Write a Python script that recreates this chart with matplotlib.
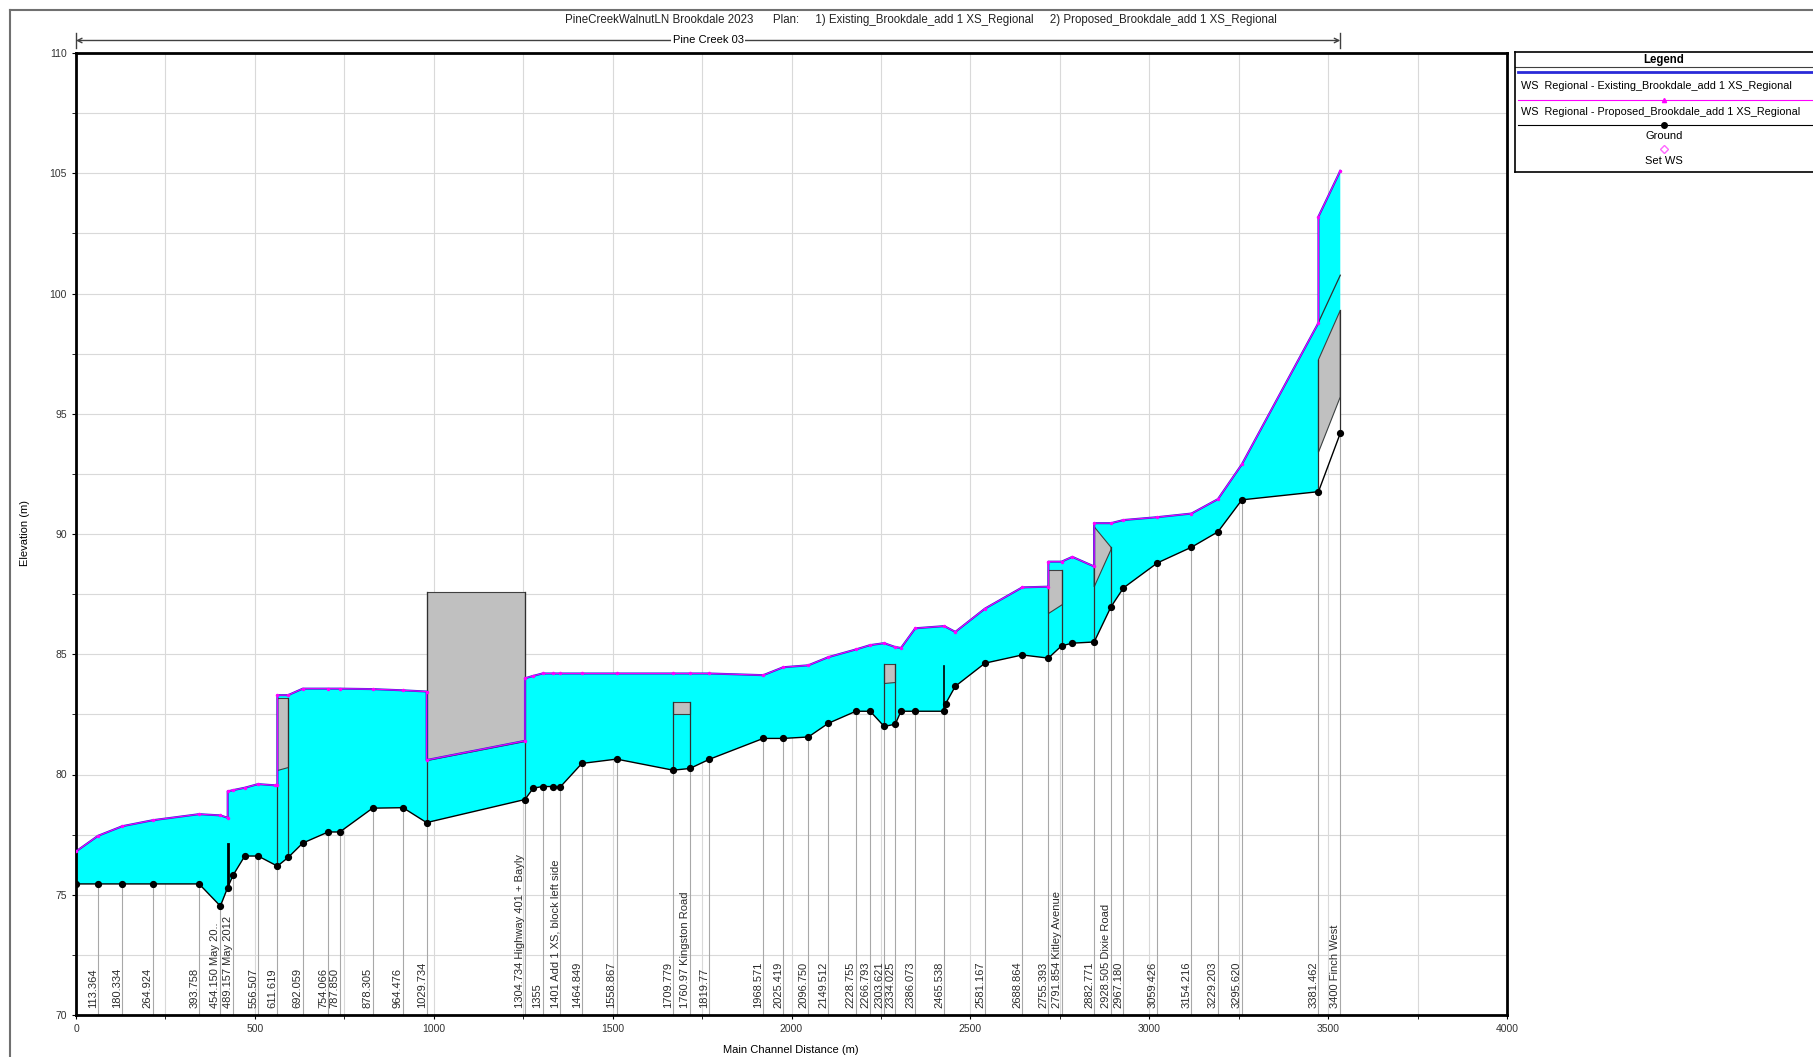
import numpy as np
import matplotlib.pyplot as plt

plt.rcParams['font.family'] = ['Liberation Sans', 'DejaVu Sans']

# ground profile (main channel distance m, invert elevation m)
ground_x = [0, 61.5, 129.5, 215, 344, 403.6, 424, 439, 471.8, 509, 563, 593, 634, 705, 737.5,
            829, 914, 980, 1255, 1278, 1304, 1333, 1353, 1414, 1511, 1669, 1716, 1770, 1921,
            1977, 2047, 2103, 2180, 2220, 2259, 2290, 2306, 2346, 2427, 2431, 2458, 2541, 2645,
            2718, 2755, 2785, 2846, 2893, 2928, 3023, 3118, 3192, 3259, 3473, 3534]
ground_z = [75.45, 75.45, 75.45, 75.45, 75.45, 74.53, 75.3, 75.81, 76.61, 76.61, 76.19, 76.55,
            77.15, 77.61, 77.61, 78.6, 78.62, 78.0, 78.96, 79.43, 79.5, 79.5, 79.47, 80.46,
            80.64, 80.18, 80.25, 80.63, 81.5, 81.5, 81.56, 82.13, 82.63, 82.63, 82.0, 82.09,
            82.63, 82.63, 82.63, 82.95, 83.67, 84.63, 84.97, 84.84, 85.35, 85.46, 85.51, 86.97,
            87.76, 88.8, 89.45, 90.09, 91.42, 91.76, 94.19]

# water surface (same stations, with jumps at structures)
ws_x = [0, 61.5, 129.5, 215, 344, 403.6, 424, 424, 439, 471.8, 509, 556, 563, 563, 593, 634,
        705, 737.5, 829, 914, 980, 980, 1255, 1255, 1278, 1304, 1333, 1353, 1414, 1511, 1669,
        1716, 1770, 1921, 1977, 2047, 2103, 2180, 2220, 2259, 2290, 2306, 2346, 2427, 2458,
        2541, 2645, 2718, 2718, 2755, 2785, 2846, 2846, 2893, 2928, 3023, 3118, 3192, 3259,
        3473, 3473, 3534]
ws_exist = [76.8, 77.45, 77.85, 78.1, 78.35, 78.3, 78.2, 79.3, 79.35, 79.45, 79.6, 79.55, 79.55,
            83.3, 83.3, 83.57, 83.57, 83.57, 83.55, 83.5, 83.45, 80.6, 81.4, 84.0, 84.1, 84.2,
            84.2, 84.2, 84.2, 84.2, 84.2, 84.2, 84.2, 84.13, 84.46, 84.54, 84.88, 85.2, 85.38,
            85.46, 85.3, 85.26, 86.08, 86.17, 85.93, 86.9, 87.78, 87.81, 88.85, 88.85, 89.05,
            88.65, 90.45, 90.45, 90.58, 90.7, 90.85, 91.45, 92.9, 98.78, 103.2, 105.1]
ws_prop = [76.8, 77.45, 77.85, 78.1, 78.35, 78.3, 78.2, 79.3, 79.35, 79.45, 79.6, 79.55, 79.55,
           83.3, 83.3, 83.57, 83.57, 83.57, 83.55, 83.5, 83.45, 80.6, 81.4, 84.0, 84.1, 84.2,
           84.2, 84.2, 84.2, 84.2, 84.2, 84.2, 84.2, 84.13, 84.46, 84.54, 84.88, 85.2, 85.38,
           85.46, 85.3, 85.26, 86.08, 86.17, 85.93, 86.9, 87.78, 87.81, 88.85, 88.85, 89.05,
           88.65, 90.45, 90.45, 90.58, 90.7, 90.85, 91.45, 92.9, 98.78, 103.2, 105.1]

# labelled cross sections
xs_dist = [61.5, 129.5, 215, 344, 403.6, 439, 509, 563, 634, 705, 737.5, 829, 914, 980, 1255,
           1304, 1353, 1414, 1511, 1669, 1716, 1770, 1921, 1977, 2047, 2103, 2180, 2220, 2259,
           2290, 2346, 2427, 2541, 2645, 2718, 2755, 2846, 2893, 2928, 3023, 3118, 3192, 3259,
           3473, 3534]
xs_label = ["113.364", "180.334", "264.924", "393.758", "454.150 May 20..", "489.157 May 2012",
            "556.507", "611.619", "692.059", "754.066", "787.850", "878.305", "964.476",
            "1029.734", "1304.734 Highway 401 + Bayly", "1355", "1401 Add 1 XS, block left side",
            "1464.849", "1558.867", "1709.779", "1760.97 Kingston Road", "1819.77", "1968.571",
            "2025.419", "2096.750", "2149.512", "2228.755", "2266.793", "2303.621", "2334.025",
            "2386.073", "2465.538", "2581.167", "2688.864", "2755.393", "2791.854 Kitley Avenue",
            "2882.771", "2928.505 Dixie Road", "2967.180", "3059.426", "3154.216", "3229.203",
            "3295.620", "3381.462", "3400 Finch West"]

# bridges / culverts (deck outline)
st_x0 = [563, 980, 1669, 2259, 2718, 2846, 3473]
st_x1 = [593, 1255, 1716, 2290, 2755, 2893, 3534]
st_low0 = [80.2, 80.6, 82.5, 83.8, 86.7, 87.8, 93.4]
st_low1 = [80.3, 81.4, 82.5, 83.85, 87.1, 89.35, 95.7]
st_top0 = [83.2, 87.6, 83.0, 84.6, 88.5, 90.3, 97.25]
st_top1 = [83.2, 87.6, 83.0, 84.6, 88.5, 89.45, 99.3]
st_dry = [0, 0, 0, 0, 0, 0, 1]

# inline weirs
weir_x = [424, 2427]
weir_top = [77.1, 84.5]

fig = plt.figure(figsize=(18.13, 10.57), dpi=100)
ax = fig.add_axes([76 / 1813, 1 - 1015 / 1057, 1431 / 1813, 962 / 1057])
ax.set_xlim(0, 4000)
ax.set_ylim(70, 110)
ax.set_xticks(np.arange(0, 4001, 500))
ax.set_xticks(np.arange(0, 4001, 250), minor=True)
ax.set_yticks(np.arange(70, 111, 5))
ax.set_yticks(np.arange(70, 110.1, 2.5), minor=True)
ax.grid(which='both', color='#d9d9d9', lw=0.8, zorder=0)
ax.set_axisbelow(True)
ax.tick_params(which='both', direction='out', labelsize=7.5, labelcolor='#333333', length=3)
for s in ax.spines.values():
    s.set_linewidth(2)

# cyan water
ax.fill(ws_x + ground_x[::-1], ws_exist + ground_z[::-1], color='#00ffff', lw=0, zorder=2)

# cross section lines and labels
for d, lab in zip(xs_dist, xs_label):
    gz = np.interp(d, ground_x, ground_z)
    ax.plot([d, d], [70, gz], color='#a8a8a8', lw=0.8, zorder=1)
    ax.text(d, 70.3, lab, rotation=90, ha='right', va='bottom', fontsize=8, color='#2a2a2a', zorder=6)

# structures
for x0, x1, l0, l1, t0, t1, dry in zip(st_x0, st_x1, st_low0, st_low1, st_top0, st_top1, st_dry):
    g0 = np.interp(x0, ground_x, ground_z)
    g1 = np.interp(x1, ground_x, ground_z)
    if dry:
        ax.fill([x0, x0, x1, x1], [g0, l0, l1, g1], color='white', lw=0, zorder=2.5)
    ax.fill([x0, x0, x1, x1], [l0, t0, t1, l1], facecolor='#c0c0c0', edgecolor='#404040', lw=0.8, zorder=3)
    ax.plot([x0, x0], [g0, t0], color='#303030', lw=0.9, zorder=3.5)
    ax.plot([x1, x1], [g1, t1], color='#303030', lw=0.9, zorder=3.5)
ax.plot([3473, 3534], [98.8, 100.76], color='#303030', lw=0.9, zorder=3.5)

for wx, wt in zip(weir_x, weir_top):
    ax.plot([wx, wx], [np.interp(wx, ground_x, ground_z), wt], color='black', lw=2 if wx < 1000 else 1.2, zorder=3.5)

ax.plot(ws_x, ws_exist, color='#2a2ad8', lw=1.5, zorder=4)
ax.plot(ws_x, ws_prop, color='#ff00ff', lw=0.7, marker='.', ms=3, zorder=4.5)
ax.plot(ground_x, ground_z, color='black', lw=1, marker='o', ms=4.2, zorder=5)

# reach arrow
tr = ax.get_xaxis_transform()
ax.annotate('', xy=(0, 1.013), xytext=(3534, 1.013), xycoords=tr, textcoords=tr,
            arrowprops=dict(arrowstyle='<->', lw=1, color='#404040', shrinkA=0, shrinkB=0, mutation_scale=8))
for xe in [0, 3534]:
    ax.plot([xe, xe], [1.005, 1.021], transform=tr, color='#404040', lw=1, clip_on=False)
ax.text(1767, 1.013, 'Pine Creek 03', transform=tr, ha='center', va='center', fontsize=8,
        bbox=dict(facecolor='white', edgecolor='none', pad=1))

fig.text(921 / 1813, 1 - 20 / 1057,
         'PineCreekWalnutLN Brookdale 2023      Plan:     1) Existing_Brookdale_add 1 XS_Regional     2) Proposed_Brookdale_add 1 XS_Regional',
         ha='center', va='center', fontsize=8.3, color='#222222')
fig.text(791 / 1813, 1 - 1050 / 1057, 'Main Channel Distance (m)', ha='center', va='center', fontsize=8)
fig.text(25 / 1813, 1 - 533 / 1057, 'Elevation (m)', rotation=90, ha='center', va='center', fontsize=8)

# outer frame
fig.add_artist(plt.Line2D([10 / 1813, 10 / 1813], [0, 1 - 10 / 1057], color='#707070', lw=1.5))
fig.add_artist(plt.Line2D([10 / 1813, 1], [1 - 10 / 1057, 1 - 10 / 1057], color='#707070', lw=1.5))

# legend box
lax = fig.add_axes([1515 / 1813, 1 - 172 / 1057, 320 / 1813, 120 / 1057])
lax.set_xlim(0, 320)
lax.set_ylim(172, 52)
lax.set_xticks([])
lax.set_yticks([])
for s in lax.spines.values():
    s.set_linewidth(1.2)
lax.text(149, 60, 'Legend', ha='center', va='center', fontsize=8.3, weight='bold')
lax.plot([0, 320], [67, 67], color='#404040', lw=0.8)
lax.plot([3, 320], [72, 72], color='#2a2ad8', lw=2)
lax.text(6, 86, 'WS  Regional - Existing_Brookdale_add 1 XS_Regional', ha='left', va='center', fontsize=7.8)
lax.plot([3, 320], [100, 100], color='#ff00ff', lw=0.8)
lax.plot([149], [100], color='#ff00ff', marker='^', ms=3)
lax.text(6, 112, 'WS  Regional - Proposed_Brookdale_add 1 XS_Regional', ha='left', va='center', fontsize=7.8)
lax.plot([3, 320], [125, 125], color='black', lw=0.8)
lax.plot([149], [125], color='black', marker='o', ms=4)
lax.text(149, 136, 'Ground', ha='center', va='center', fontsize=8)
lax.plot([149], [149], color='#ff66ff', marker='D', ms=4, mfc='none')
lax.text(149, 161, 'Set WS', ha='center', va='center', fontsize=8)

fig.savefig('out.png', dpi=100)
